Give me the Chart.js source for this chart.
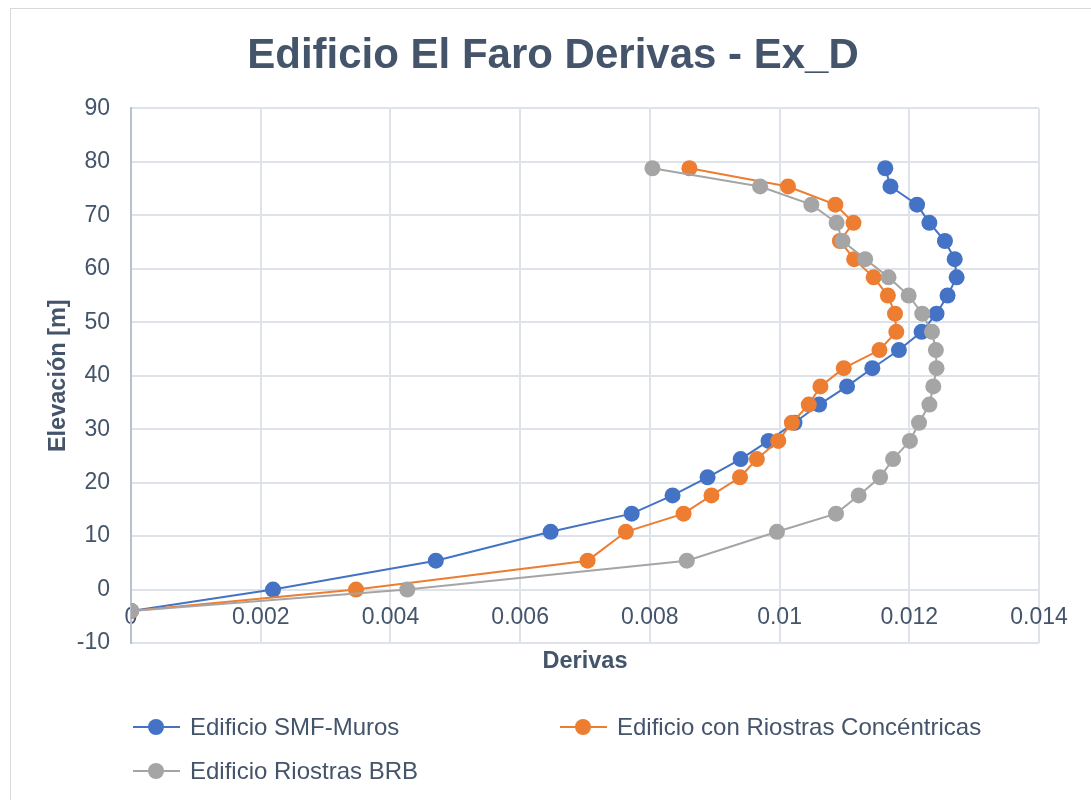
<!DOCTYPE html>
<html lang="es">
<head>
<meta charset="utf-8">
<title>Edificio El Faro Derivas - Ex_D</title>
<script src="https://cdn.jsdelivr.net/npm/chart.js@4.4.1/dist/chart.umd.min.js"></script>
<style>
    html, body { margin: 0; padding: 0; background: #fff; }
    body {
        width: 1091px; height: 800px; position: relative; overflow: hidden;
        font-family: "Liberation Sans", Arial, sans-serif;
    }
    .marco {
        position: absolute; left: 10px; top: 8px; width: 1100px; height: 820px;
        border: 1px solid #d9d9d9; box-sizing: border-box;
    }
    #grafico { position: absolute; left: 0; top: 0; }
    .leyenda-item {
        position: absolute; display: flex; align-items: center; height: 28px;
        font-size: 24px; color: #44546A; white-space: nowrap;
    }
    .simbolo { position: relative; width: 47px; height: 16px; margin-right: 10px; }
    .simbolo .linea { position: absolute; left: 0; right: 0; top: 7px; height: 2px; }
    .simbolo .punto {
        position: absolute; left: 15px; top: -0.5px; width: 16px; height: 16px; border-radius: 50%;
    }
</style>
</head>
<body>
<div class="marco"></div>
<canvas id="grafico" width="1091" height="800"></canvas>
<div id="leyenda"></div>

<script>
// Elevación de cada nivel [m]
const elevaciones = [-4.0, 0, 5.4, 10.8, 14.2, 17.6, 21.0, 24.4, 27.8, 31.2, 34.6, 38.0,
    41.4, 44.8, 48.2, 51.6, 55.0, 58.4, 61.8, 65.2, 68.6, 72.0, 75.4, 78.8];

// Derivas por nivel para cada sistema estructural
const derivaSMF = [0, 0.00219, 0.00470, 0.00647, 0.00772, 0.00835, 0.00889, 0.00940,
    0.00983, 0.01023, 0.01061, 0.01104, 0.01143, 0.01184, 0.01219, 0.01242, 0.01259,
    0.01273, 0.01270, 0.01255, 0.01231, 0.01212, 0.01171, 0.01163];
const derivaConcentricas = [0, 0.00347, 0.00704, 0.00763, 0.00852, 0.00895, 0.00939,
    0.00965, 0.00998, 0.01019, 0.01045, 0.01063, 0.01099, 0.01154, 0.01180, 0.01178,
    0.01167, 0.01145, 0.01115, 0.01093, 0.01114, 0.01086, 0.01013, 0.00861];
const derivaBRB = [0, 0.00426, 0.00857, 0.00996, 0.01087, 0.01122, 0.01155, 0.01175,
    0.01201, 0.01215, 0.01231, 0.01237, 0.01242, 0.01241, 0.01235, 0.01220, 0.01199,
    0.01168, 0.01132, 0.01097, 0.01088, 0.01049, 0.00970, 0.00804];

const nombres = ['Edificio SMF-Muros', 'Edificio con Riostras Concéntricas', 'Edificio Riostras BRB'];
const colores = ['#4472C4', '#ED7D31', '#A5A5A5'];

const ticksX = [0, 0.002, 0.004, 0.006, 0.008, 0.01, 0.012, 0.014];
const ticksY = [-10, 0, 10, 20, 30, 40, 50, 60, 70, 80, 90];

const colorTexto = '#44546A';
const colorGrilla = '#DEE2E9';
const fuente = '"Liberation Sans", Arial, sans-serif';

const puntos = (derivas) => elevaciones.map((e, i) => ({ x: derivas[i], y: e }));

const crearSerie = (idx, derivas) => ({
    label: nombres[idx],
    data: puntos(derivas),
    showLine: true,
    borderColor: colores[idx],
    backgroundColor: colores[idx],
    borderWidth: 2,
    pointRadius: 8,
    pointBorderWidth: 0,
    pointBackgroundColor: colores[idx],
    order: 3 - idx
});

new Chart(document.getElementById('grafico'), {
    type: 'scatter',
    data: {
        datasets: [
            crearSerie(0, derivaSMF),
            crearSerie(1, derivaConcentricas),
            crearSerie(2, derivaBRB)
        ]
    },
    options: {
        responsive: false,
        animation: false,
        // el eje X va anclado en y = 0, así que no ocupa espacio propio abajo
        layout: { padding: { left: 67, right: 52, top: 0, bottom: 157 } },
        plugins: {
            legend: { display: false },
            tooltip: { enabled: false },
            title: {
                display: true,
                text: 'Edificio El Faro Derivas - Ex_D',
                color: colorTexto,
                font: { family: fuente, size: 42, weight: 'bold' },
                padding: { top: 31, bottom: 27 }
            }
        },
        scales: {
            x: {
                type: 'linear',
                position: { y: 0 },
                min: 0,
                max: 0.014,
                afterBuildTicks: (scale) => { scale.ticks = ticksX.map(v => ({ value: v })); },
                afterFit: (scale) => { scale.height = 86; },
                ticks: {
                    color: colorTexto,
                    font: { family: fuente, size: 23 },
                    padding: 14,
                    maxRotation: 0,
                    autoSkip: false,
                    callback: (v) => String(v)
                },
                grid: { color: colorGrilla, lineWidth: 2, drawTicks: false },
                border: { display: false },
                title: {
                    display: true,
                    text: 'Derivas',
                    color: colorTexto,
                    font: { family: fuente, size: 23.5, weight: 'bold' },
                    padding: { top: 0, bottom: 0 }
                }
            },
            y: {
                type: 'linear',
                min: -10,
                max: 90,
                afterBuildTicks: (scale) => { scale.ticks = ticksY.map(v => ({ value: v })); },
                afterFit: (scale) => { scale.width = 64; },
                ticks: {
                    color: colorTexto,
                    font: { family: fuente, size: 23 },
                    padding: 21
                },
                grid: { color: colorGrilla, lineWidth: 2, drawTicks: false },
                border: { display: true, color: '#B7C1D1', width: 2 },
                title: {
                    display: true,
                    text: 'Elevación [m]',
                    color: colorTexto,
                    font: { family: fuente, size: 23.5, weight: 'bold' },
                    padding: { top: -23, bottom: 0 }
                }
            }
        }
    }
});

// Leyenda en dos columnas
const posicionesLeyenda = [[133, 713], [560, 713], [133, 757]];
const leyenda = document.getElementById('leyenda');
nombres.forEach((nombre, i) => {
    const item = document.createElement('div');
    item.className = 'leyenda-item';
    item.style.left = posicionesLeyenda[i][0] + 'px';
    item.style.top = posicionesLeyenda[i][1] + 'px';
    item.innerHTML = '<span class="simbolo"><span class="linea" style="background:' + colores[i] +
        '"></span><span class="punto" style="background:' + colores[i] + '"></span></span>';
    const texto = document.createElement('span');
    texto.textContent = nombre;
    item.appendChild(texto);
    leyenda.appendChild(item);
});
</script>
</body>
</html>
